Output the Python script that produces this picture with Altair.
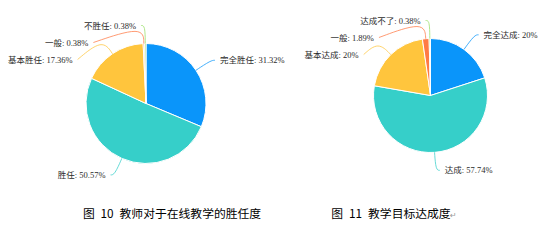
import math
import altair as alt
import pandas as pd

# ---- data ----
pie1_labels = ["完全胜任", "胜任", "基本胜任", "一般", "不胜任"]
pie1_values = [31.32, 50.57, 17.36, 0.38, 0.38]
pie2_labels = ["完全达成", "达成", "基本达成", "一般", "达成不了"]
pie2_values = [20, 57.74, 20, 1.89, 0.38]
slice_colors = ["#0A95FA", "#36CFC9", "#FFC53D", "#FF7A45", "#95DE64"]
captions = ["图\u200210\u2002教师对于在线教学的胜任度", "图\u200211\u2002教学目标达成度"]

# ---- layout / style ----
W, H = 558, 241
PIES = [dict(cx=146, cy=103.5, r=60), dict(cx=430.5, cy=95.5, r=57)]
LEN1, LEN2, DIST, GAP = 18, 4, 5, 17
LABEL_FONT = "Liberation Serif, Noto Sans CJK SC"
CJK_FONT = "Noto Sans CJK SC"


def fmt(v):
    return f"{v:g}"


def build(labels, values, cx, cy, r, pie_id):
    total = sum(values)
    arcs, lines, texts = [], [], []
    cum = 0.0
    R = r + LEN1
    items = []
    for i, (lab, v) in enumerate(zip(labels, values)):
        a0 = cum / total * 2 * math.pi
        a1 = (cum + v) / total * 2 * math.pi
        cum += v
        m = (a0 + a1) / 2
        arcs.append(dict(pie=pie_id, cat=lab, t0=a0, t1=a1, cx=cx, cy=cy,
                         color=slice_colors[i]))
        ex, ey = cx + r * math.sin(m), cy - r * math.cos(m)
        bx, by = cx + R * math.sin(m), cy - R * math.cos(m)
        side = 1 if math.sin(m) >= -1e-9 else -1
        items.append(dict(i=i, lab=lab, v=v, ex=ex, ey=ey, bx=bx, by=by,
                          side=side, ly=by))
    # simple overlap avoidance per side (push downwards)
    for side in (1, -1):
        group = sorted([it for it in items if it["side"] == side],
                       key=lambda d: d["by"])
        prev = None
        for it in group:
            if prev is not None and it["ly"] < prev + GAP:
                it["ly"] = prev + GAP
            prev = it["ly"]
    for it in items:
        dy = it["ly"] - cy
        dx = math.sqrt(max(R * R - dy * dy, 0.0))
        lx = cx + it["side"] * dx
        endx = lx + it["side"] * LEN2
        key = f"{pie_id}-{it['i']}"
        col = slice_colors[it["i"]]
        for k, (px, py) in enumerate([(it["ex"], it["ey"]),
                                      (it["bx"], it["by"]),
                                      (endx, it["ly"])]):
            lines.append(dict(key=key, pt=k, x=px, y=py, color=col))
        texts.append(dict(x=endx + it["side"] * DIST, y=it["ly"],
                          side="right" if it["side"] > 0 else "left",
                          text=f"{it['lab']}: {fmt(it['v'])}%"))
    return arcs, lines, texts


arcs, lines, texts = [], [], []
for pid, (labs, vals) in enumerate([(pie1_labels, pie1_values),
                                    (pie2_labels, pie2_values)]):
    a, l, t = build(labs, vals, PIES[pid]["cx"], PIES[pid]["cy"],
                    PIES[pid]["r"], pid)
    arcs += a
    lines += l
    texts += t

arc_df = pd.DataFrame(arcs)
line_df = pd.DataFrame(lines)
text_df = pd.DataFrame(texts)

layers = []
for pid in range(2):
    layers.append(
        alt.Chart(arc_df[arc_df.pie == pid])
        .mark_arc(outerRadius=PIES[pid]["r"], stroke="white", strokeWidth=1)
        .encode(
            x=alt.X("cx:Q", scale=None),
            y=alt.Y("cy:Q", scale=None),
            theta=alt.Theta("t0:Q", scale=None, stack=None),
            theta2="t1:Q",
            color=alt.Color("color:N", scale=None),
        )
    )

layers.append(
    alt.Chart(line_df)
    .mark_line(interpolate="basis", strokeWidth=1, opacity=0.75)
    .encode(
        x=alt.X("x:Q", scale=None),
        y=alt.Y("y:Q", scale=None),
        detail="key:N",
        order=alt.Order("pt:Q"),
        color=alt.Color("color:N", scale=None),
    )
)

for side, align in (("right", "left"), ("left", "right")):
    layers.append(
        alt.Chart(text_df[text_df.side == side])
        .mark_text(align=align, baseline="middle", font=LABEL_FONT,
                   fontSize=8.5, color="#2b2b2b")
        .encode(x=alt.X("x:Q", scale=None), y=alt.Y("y:Q", scale=None),
                text="text:N")
    )

cap_df = pd.DataFrame({"text": captions, "x": [172, 391], "y": [214, 214]})
layers.append(
    alt.Chart(cap_df)
    .mark_text(align="center", baseline="middle", font=CJK_FONT,
               fontSize=11.8, color="#000000")
    .encode(x=alt.X("x:Q", scale=None), y=alt.Y("y:Q", scale=None),
            text="text:N")
)
layers.append(
    alt.Chart(pd.DataFrame({"t": ["↵"]}))
    .mark_text(align="left", baseline="middle", font="DejaVu Sans",
               fontSize=8, color="#999999")
    .encode(x=alt.value(450), y=alt.value(216), text="t:N")
)

chart = (
    alt.layer(*layers)
    .properties(width=W, height=H, autosize="none", padding=0,
                background="white")
    .configure_view(stroke=None)
)
chart.save("out.html", embed_options={"renderer": "svg", "actions": False})
